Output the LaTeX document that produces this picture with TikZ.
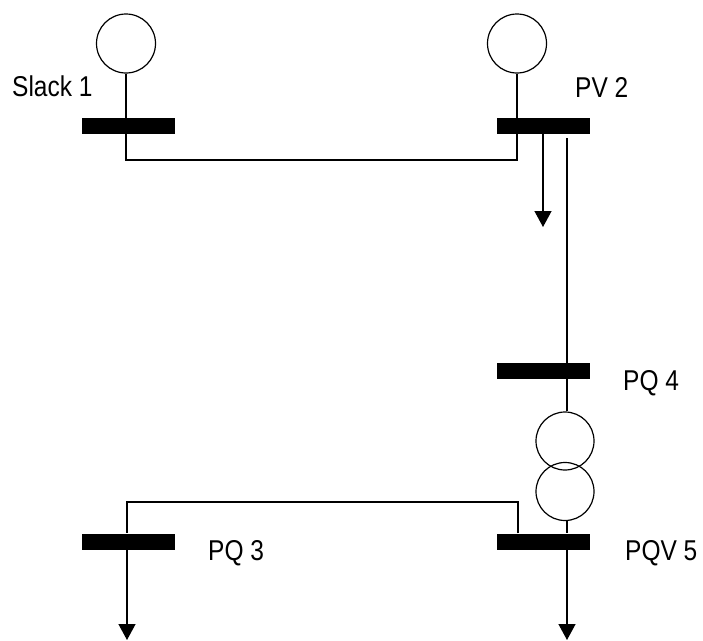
\documentclass[tikz,border=0pt]{standalone}
\usepackage{fontspec}
\setmainfont{Liberation Sans}
\usetikzlibrary{arrows.meta}
\tikzset{
  bus/.style={rectangle, fill=black, draw=none, minimum width=93pt, minimum height=16pt, inner sep=0pt},
  gen/.style={circle, draw=black, line width=1.2pt, minimum size=59pt, inner sep=0pt},
  wire/.style={draw=black, line width=1.3pt},
  load/.style={wire, -{Triangle[width=17pt,length=16pt]}},
  lbl/.style={inner sep=0pt, anchor=base west, font=\fontsize{24.5}{28}\selectfont}
}
\newcommand{\tall}[1]{\scalebox{1}[1.17]{#1}}
\begin{document}
\begin{tikzpicture}[x=1pt,y=-1pt]
\useasboundingbox (0,0) rectangle (703,640);
% buses
\node[bus] (b1) at (128.5,126) {};
\node[bus] (b2) at (543.5,126) {};
\node[bus] (b4) at (543.5,371) {};
\node[bus] (b5) at (543.5,541.5) {};
\node[bus] (b3) at (128.5,541.5) {};
% generators
\node[gen] (g1) at (126,43.5) {};
\node[gen] (g2) at (517,43.5) {};
% transformer
\node[gen, minimum size=58pt] (t1) at (565,441) {};
\node[gen, minimum width=58pt, minimum height=54pt] (t2) at (565,491.5) {};
% labels
\node[lbl] (n1) at (12,96) {\tall{Slack 1}};
\node[lbl] (n2) at (575,97) {\tall{PV 2}};
\node[lbl] (n4) at (623,390) {\tall{PQ 4}};
\node[lbl] (n5) at (625,560) {\tall{PQV 5}};
\node[lbl] (n3) at (208,560) {\tall{PQ 3}};
% junction coordinates
\coordinate (j1) at (126,160);
\coordinate (j2) at (517,160);
\coordinate (k5) at (518,502);
\coordinate (k3) at (127,502);
\coordinate (p2) at (567,138);
\coordinate (l2) at (543,227);
\coordinate (l3) at (127,640);
\coordinate (l5) at (567,640);
% lines
\draw[wire] (g1.south) -- (j1) -- (j2) -- (g2.south);
\draw[wire] (p2) -- (p2 |- b4.north);
\draw[wire] (p2 |- b4.south) -- (p2 |- t1.north);
\draw[wire] (p2 |- t2.south) -- (p2 |- b5.north);
\draw[wire] (k5 |- b5.north) -- (k5) -- (k3) -- (k3 |- b3.north);
\draw[load] (l2 |- b2.south) -- (l2);
\draw[load] (l3 |- b3.south) -- (l3);
\draw[load] (l5 |- b5.south) -- (l5);
\end{tikzpicture}
\end{document}
